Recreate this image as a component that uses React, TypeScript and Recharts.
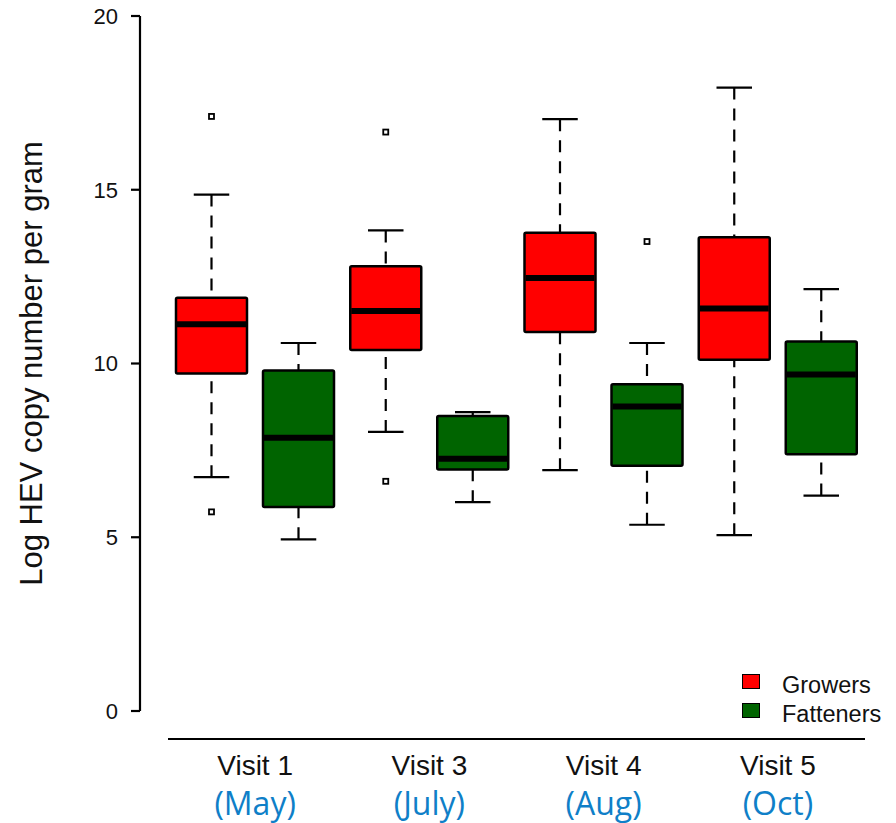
import React from "react"
import { ComposedChart, Bar, XAxis, YAxis, Legend } from "recharts"

// box-plot stats (log HEV copies per gram)
const visits = ["Visit 1", "Visit 3", "Visit 4", "Visit 5"]
const months = ["(May)", "(July)", "(Aug)", "(Oct)"]
const yTicks = [0, 5, 10, 15, 20]

const growersMin = [6.73, 8.03, 6.93, 5.06]
const growersQ1 = [9.71, 10.39, 10.91, 10.11]
const growersMedian = [11.13, 11.51, 12.46, 11.58]
const growersQ3 = [11.89, 12.8, 13.76, 13.63]
const growersMax = [14.86, 13.83, 17.03, 17.94]
const growersOutliers = [[17.11, 5.73], [16.66, 6.61], [], []]

const fattenersMin = [4.94, 6.01, 5.36, 6.2]
const fattenersQ1 = [5.87, 6.95, 7.06, 7.39]
const fattenersMedian = [7.86, 7.26, 8.76, 9.68]
const fattenersQ3 = [9.8, 8.49, 9.4, 10.63]
const fattenersMax = [10.59, 8.6, 10.59, 12.14]
const fattenersOutliers = [[], [], [13.51], []]

const RED = "#ff0000"
const GREEN = "#006400"
const MONTH_BLUE = "#0f7fc8"
const ARIAL = "'Liberation Sans', Arial, sans-serif"

const CHART_W = 896
const CHART_H = 823
const MARGIN = { top: 16, right: 31, bottom: 0, left: 60 }
const X_AXIS_H = 84
const AXIS_GAP = 28
const PLOT_H = CHART_H - MARGIN.top - MARGIN.bottom - X_AXIS_H

const data = visits.map((visit, i) => ({
  visit,
  growers: {
    min: growersMin[i],
    q1: growersQ1[i],
    median: growersMedian[i],
    q3: growersQ3[i],
    max: growersMax[i],
    outliers: growersOutliers[i],
  },
  fatteners: {
    min: fattenersMin[i],
    q1: fattenersQ1[i],
    median: fattenersMedian[i],
    q3: fattenersQ3[i],
    max: fattenersMax[i],
    outliers: fattenersOutliers[i],
  },
}))

// bar rect spans min..max; the rest is placed on the same linear scale
function BoxPlot(props: any) {
  const { x, y, width, height, stats, color } = props
  const top = Math.min(y, y + height)
  const bottom = Math.max(y, y + height)
  const { min, q1, median, q3, max, outliers } = stats
  const toY = (v: number) => bottom - ((v - min) / (max - min)) * (bottom - top)
  const cx = x + width / 2
  const cap = width / 4
  return (
    <g>
      <line x1={cx} x2={cx} y1={toY(max)} y2={toY(q3)} stroke="#000" strokeWidth={2.2} strokeDasharray="12 9" />
      <line x1={cx} x2={cx} y1={toY(min)} y2={toY(q1)} stroke="#000" strokeWidth={2.2} strokeDasharray="12 9" />
      <line x1={cx - cap} x2={cx + cap} y1={toY(max)} y2={toY(max)} stroke="#000" strokeWidth={2.2} />
      <line x1={cx - cap} x2={cx + cap} y1={toY(min)} y2={toY(min)} stroke="#000" strokeWidth={2.2} />
      <rect
        x={x}
        y={toY(q3)}
        width={width}
        height={toY(q1) - toY(q3)}
        fill={color}
        stroke="#000"
        strokeWidth={2.5}
        rx={1.5}
      />
      <line x1={x + 1} x2={x + width - 1} y1={toY(median)} y2={toY(median)} stroke="#000" strokeWidth={6} />
      {outliers.map((v: number, k: number) => (
        <rect key={k} x={cx - 2.5} y={toY(v) - 2.5} width={5} height={5} fill="#fff" stroke="#000" strokeWidth={1.8} />
      ))}
    </g>
  )
}

function VisitTick(props: any) {
  const { x, y, payload, index } = props
  return (
    <g>
      <text x={x} y={y + 36} textAnchor="middle" fontFamily={ARIAL} fontSize={28} fill="#111">
        {payload.value}
      </text>
      <text x={x} y={y + 76} textAnchor="middle" fontFamily="'Open Sans', sans-serif" fontSize={32} fill={MONTH_BLUE}>
        {months[index]}
      </text>
    </g>
  )
}

function YLabel(props: any) {
  const { viewBox } = props
  const x = viewBox.x - 18
  const y = viewBox.y + (viewBox.height - AXIS_GAP) / 2
  return (
    <text
      x={x}
      y={y}
      transform={`rotate(-90, ${x}, ${y})`}
      textAnchor="middle"
      fontFamily={ARIAL}
      fontSize={31}
      fill="#111"
    >
      Log HEV copy number per gram
    </text>
  )
}

const legendItems = [
  { name: "Growers", color: RED },
  { name: "Fatteners", color: GREEN },
]

function LegendBox() {
  return (
    <div style={{ fontFamily: ARIAL, fontSize: 23.5, color: "#111" }}>
      {legendItems.map((item) => (
        <div key={item.name} style={{ display: "flex", alignItems: "flex-start", height: 29, lineHeight: "30px" }}>
          <span
            style={{
              display: "inline-block",
              width: 16,
              height: 13,
              marginTop: 3.5,
              background: item.color,
              border: "1px solid #000",
            }}
          />
          <span style={{ marginLeft: 22, marginTop: -1 }}>{item.name}</span>
        </div>
      ))}
    </div>
  )
}

export default function App() {
  return (
    <div style={{ position: "absolute", left: 0, top: 0, background: "#fff" }}>
      <ComposedChart width={CHART_W} height={CHART_H} data={data} margin={MARGIN} barGap={16}>
        <XAxis
          dataKey="visit"
          type="category"
          height={X_AXIS_H}
          padding={{ left: AXIS_GAP, right: 0 }}
          interval={0}
          tickLine={false}
          tickSize={0}
          tickMargin={0}
          tick={<VisitTick />}
          axisLine={{ stroke: "#000", strokeWidth: 2.2, strokeDasharray: `0 ${AXIS_GAP} 2000` }}
        />
        <YAxis
          type="number"
          domain={[0, 20]}
          ticks={yTicks}
          width={80}
          padding={{ top: 0, bottom: AXIS_GAP }}
          tickSize={9}
          tickMargin={13}
          tick={{ fontFamily: ARIAL, fontSize: 22, fill: "#111" }}
          tickLine={{ stroke: "#000", strokeWidth: 2.2 }}
          axisLine={{ stroke: "#000", strokeWidth: 2.2, strokeDasharray: `${PLOT_H - AXIS_GAP} 2000` }}
          label={<YLabel />}
        />
        <Legend
          layout="vertical"
          align="center"
          verticalAlign="middle"
          content={<LegendBox />}
          wrapperStyle={{ left: 742, top: 670.5, width: 150 }}
        />
        <Bar
          name="Growers"
          dataKey={(d: any) => [d.growers.min, d.growers.max]}
          barSize={71}
          fill={RED}
          isAnimationActive={false}
          shape={(p: any) => <BoxPlot {...p} stats={p.payload.growers} color={RED} />}
        />
        <Bar
          name="Fatteners"
          dataKey={(d: any) => [d.fatteners.min, d.fatteners.max]}
          barSize={71}
          fill={GREEN}
          isAnimationActive={false}
          shape={(p: any) => <BoxPlot {...p} stats={p.payload.fatteners} color={GREEN} />}
        />
      </ComposedChart>
    </div>
  )
}
